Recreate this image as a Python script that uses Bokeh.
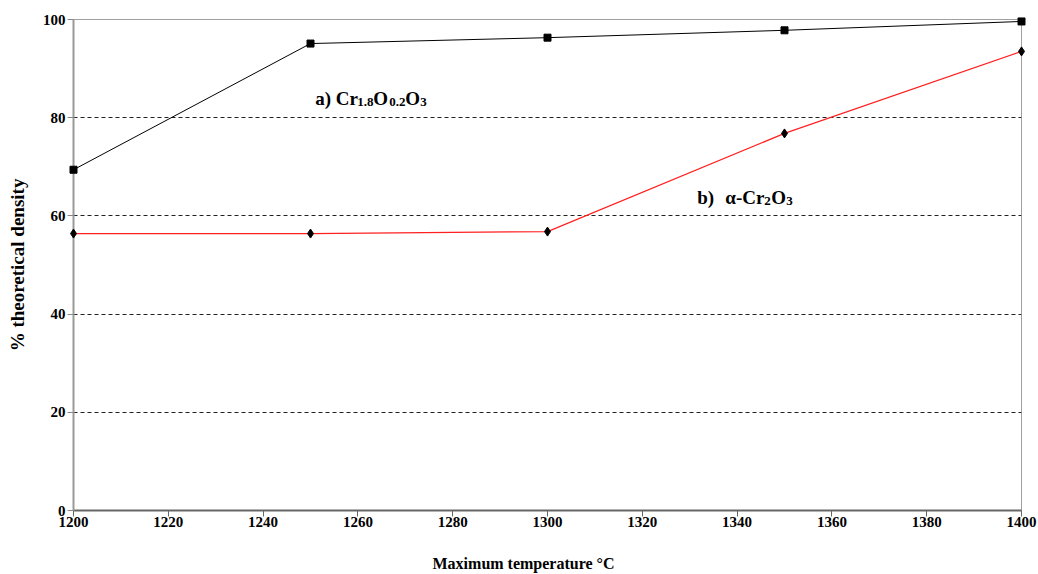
from bokeh.plotting import figure
from bokeh.models import Label, Range1d, FixedTicker, Title, LinearAxis
from bokeh.embed import file_html
from bokeh.resources import INLINE

# Data
temperature = [1200, 1250, 1300, 1350, 1400]
density_cr18 = [69.4, 95.1, 96.3, 97.8, 99.6]
density_alpha = [56.4, 56.4, 56.8, 76.8, 93.5]
x_ticks = [1200, 1220, 1240, 1260, 1280, 1300, 1320, 1340, 1360, 1380, 1400]
y_ticks = [0, 20, 40, 60, 80, 100]

FONT = '"Liberation Serif"'

p = figure(width=1038, height=574, output_backend="svg", toolbar_location=None,
           x_range=Range1d(1200, 1400), y_range=Range1d(0, 100),
           min_border_left=73, min_border_right=17, min_border_top=19, min_border_bottom=64)

p.background_fill_color = "white"
p.border_fill_color = "white"
p.outline_line_color = "#a0a0a0"
p.outline_line_width = 1

p.xgrid.visible = False
p.ygrid.grid_line_color = "#222222"
p.ygrid.grid_line_dash = "4 3"
p.ygrid.grid_line_width = 1

p.xaxis.ticker = FixedTicker(ticks=x_ticks)
p.yaxis.ticker = FixedTicker(ticks=y_ticks)
for ax in (p.xaxis, p.yaxis):
    ax.major_label_text_font = FONT
    ax.major_label_text_font_style = "bold"
    ax.major_label_text_font_size = "15px"
    ax.major_label_text_color = "black"
    ax.minor_tick_line_color = None
    ax.major_tick_in = 0
    ax.major_tick_out = 6
p.xaxis.axis_line_color = "#666666"
p.xaxis.axis_line_width = 2
p.xaxis.major_tick_line_color = "#666666"
p.xaxis.major_label_standoff = 0
p.yaxis.axis_line_color = "#999999"
p.yaxis.axis_line_width = 2
p.yaxis.major_tick_line_color = "#888888"
p.yaxis.major_label_standoff = 2

p.yaxis.axis_label = "% theoretical density"
p.yaxis.axis_label_text_font = FONT
p.yaxis.axis_label_text_font_style = "bold"
p.yaxis.axis_label_text_font_size = "19px"
p.yaxis.axis_label_text_color = "black"
p.yaxis.axis_label_standoff = 12

# invisible spacer axis between the tick labels and the x title
spacer = LinearAxis(ticker=FixedTicker(ticks=[1300]), axis_line_color=None,
                    major_tick_line_color=None, minor_tick_line_color=None,
                    major_tick_in=0, major_tick_out=20, major_label_standoff=0,
                    major_label_text_font_size="0px",
                    major_label_overrides={1300: ""})
p.add_layout(spacer, "below")

# x-axis title
p.add_layout(Title(text="Maximum temperature °C", align="left", offset=359,
                   text_font=FONT, text_font_style="bold", text_font_size="16px",
                   text_color="black", standoff=6), "below")

# Series
p.line(temperature, density_cr18, line_color="black", line_width=1)
p.scatter(temperature, density_cr18, marker="square", size=7, color="black", level="overlay")
p.line(temperature, density_alpha, line_color="#ff2020", line_width=1.2)
p.scatter(temperature, density_alpha, marker="diamond", size=9, color="black", level="overlay")


def piece(x, y, text, dx, dy=0, size=19):
    p.add_layout(Label(x=x, y=y, text=text, x_offset=dx, y_offset=dy,
                       text_font=FONT, text_font_style="bold",
                       text_font_size=f"{size}px", text_color="black",
                       text_baseline="alphabetic", text_align="left"))

# a) Cr1.8O0.2O3
ax_, ay_ = 1251.0, 84.0
piece(ax_, ay_, "a) Cr", 0)
piece(ax_, ay_, "1.8", 42, -4, 13)
piece(ax_, ay_, "O", 58)
piece(ax_, ay_, "0.2", 74, -4, 13)
piece(ax_, ay_, "O", 90)
piece(ax_, ay_, "3", 105, -4, 13)

# b) α-Cr2O3
bx_, by_ = 1331.6, 63.8
piece(bx_, by_, "b)", 0)
piece(bx_, by_, "α-Cr", 28)
piece(bx_, by_, "2", 67, -4, 13)
piece(bx_, by_, "O", 74)
piece(bx_, by_, "3", 89, -4, 13)

open("out.html", "w").write(file_html(p, INLINE))
